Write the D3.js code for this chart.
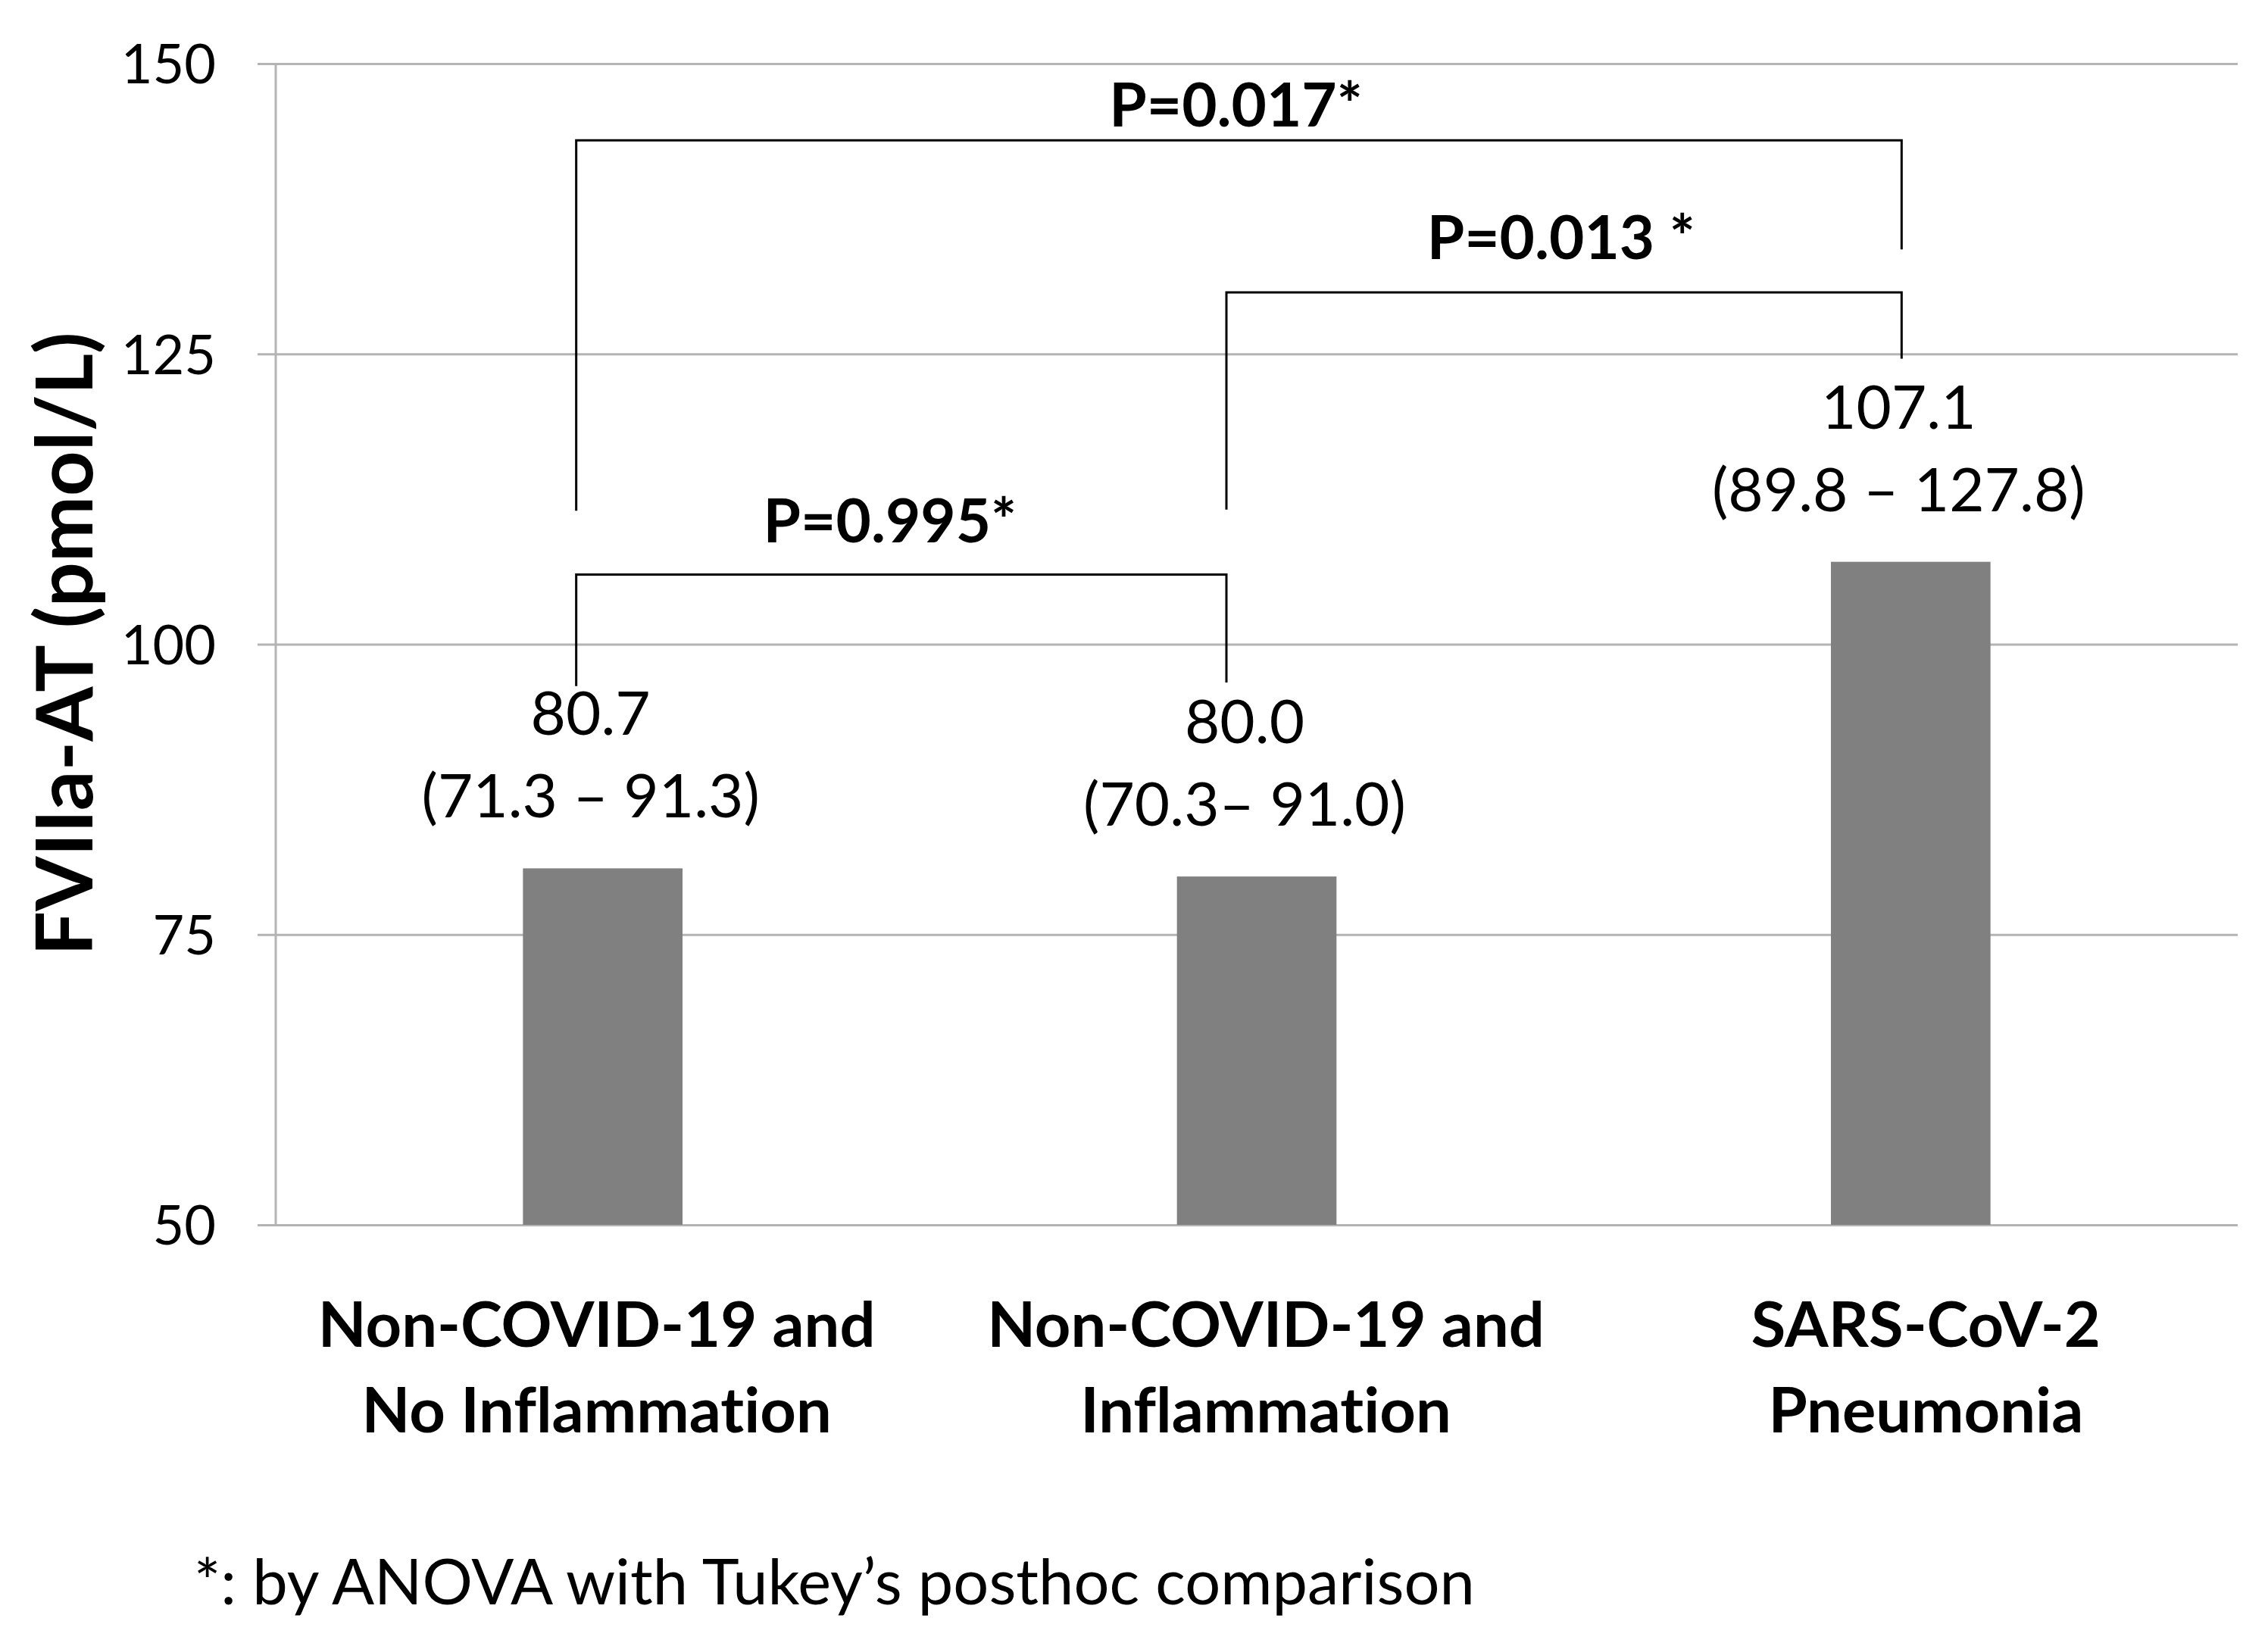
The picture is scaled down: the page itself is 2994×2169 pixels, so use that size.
<!DOCTYPE html>
<html>
<head>
<meta charset="utf-8">
<script src="https://cdn.jsdelivr.net/npm/d3@7"></script>
<style>
  html, body { margin: 0; padding: 0; background: #ffffff; }
  svg { display: block; }
  text { font-family: Lato, "Open Sans", "Noto Sans", sans-serif; fill: #000; font-variant-ligatures: none; font-feature-settings: "liga" 0, "clig" 0; }
</style>
</head>
<body>
<svg id="chart" width="2994" height="2169"></svg>
<script>
// ---------- data ----------
const categories = ["Non-COVID-19 and No Inflammation", "Non-COVID-19 and Inflammation", "SARS-CoV-2 Pneumonia"];
const categoryLines = [["Non-COVID-19 and", "No Inflammation"], ["Non-COVID-19 and", "Inflammation"], ["SARS-CoV-2", "Pneumonia"]];
const medians = [80.7, 80.0, 107.1];
const medianLabels = ["80.7", "80.0", "107.1"];
const rangeLabels = ["(71.3 \u2013 91.3)", "(70.3\u2013 91.0)", "(89.8 \u2013 127.8)"];
const yTicks = [50, 75, 100, 125, 150];
const yDomain = [50, 150];

// comparison brackets (values in data units)
const bracketFrom = [0, 1, 0];
const bracketTo = [1, 2, 2];
const bracketTop = [106.0, 130.3, 143.4];
const bracketLegFromEnd = [96.4, 111.6, 111.5];
const bracketLegToEnd = [96.7, 124.6, 134.0];
const bracketLabels = ["P=0.995*", "P=0.013 *", "P=0.017*"];
const bracketLabelAt = [108.8, 133.2, 144.6];

const yTitle = "FVIIa-AT (pmol/L)";
const footnote = "*: by ANOVA with Tukey\u2019s posthoc comparison";

// ---------- layout ----------
const W = 2994, H = 2169;
const plotLeft = 364, plotRight = 2954, plotTop = 84, plotBottom = 1617;
const svg = d3.select("#chart");

const x = d3.scaleBand().domain(categories).range([plotLeft, plotRight]).paddingInner(0).paddingOuter(0);
const y = d3.scaleLinear().domain(yDomain).range([plotBottom, plotTop]);
const barW = x.step() * 0.244;
const cx = i => x(categories[i]) + x.bandwidth() / 2;

// gridlines + tick labels via axis
const tickStart = 340;
const yAxis = d3.axisLeft(y)
  .tickValues(yTicks)
  .tickSizeInner(-(plotRight - tickStart))
  .tickSizeOuter(0)
  .tickPadding(55)
  .tickFormat(d3.format("d"));

const gAxis = svg.append("g")
  .attr("transform", `translate(${tickStart},0)`)
  .call(yAxis);
gAxis.select(".domain").remove();
gAxis.selectAll(".tick line").attr("stroke", "#b4b4b4").attr("stroke-width", 3);
gAxis.selectAll(".tick text")
  .attr("font-size", 72)
  .attr("font-family", "Lato, sans-serif")
  .attr("fill", "#000")
  .attr("dy", "0.36em");

// vertical axis line
svg.append("line")
  .attr("x1", plotLeft).attr("x2", plotLeft)
  .attr("y1", y(yDomain[1])).attr("y2", y(yDomain[0]))
  .attr("stroke", "#b4b4b4").attr("stroke-width", 3);

// bars
svg.append("g").selectAll("rect")
  .data(medians)
  .join("rect")
  .attr("x", (d, i) => cx(i) - barW / 2)
  .attr("width", barW)
  .attr("y", d => y(d))
  .attr("height", d => y(yDomain[0]) - y(d))
  .attr("fill", "#808080");

// value labels
const labelDx = -16;
const gLab = svg.append("g");
gLab.selectAll("text.med")
  .data(medians)
  .join("text")
  .attr("class", "med")
  .attr("x", (d, i) => cx(i) + labelDx)
  .attr("y", d => y(d) - 176)
  .attr("text-anchor", "middle")
  .attr("font-size", 80)
  .text((d, i) => medianLabels[i]);
gLab.selectAll("text.rng")
  .data(medians)
  .join("text")
  .attr("class", "rng")
  .attr("x", (d, i) => cx(i) + labelDx)
  .attr("y", d => y(d) - 67)
  .attr("text-anchor", "middle")
  .attr("font-size", 80)
  .text((d, i) => rangeLabels[i]);

// brackets
const legOffset = [-35, -40, -12];
const legX = i => cx(i) + legOffset[i];
const gBr = svg.append("g");
bracketLabels.forEach((lab, k) => {
  const a = bracketFrom[k], b = bracketTo[k];
  const path = d3.path();
  path.moveTo(legX(a), y(bracketLegFromEnd[k]));
  path.lineTo(legX(a), y(bracketTop[k]));
  path.lineTo(legX(b), y(bracketTop[k]));
  path.lineTo(legX(b), y(bracketLegToEnd[k]));
  gBr.append("path")
    .attr("d", path.toString())
    .attr("fill", "none")
    .attr("stroke", "#000")
    .attr("stroke-width", 3);
  gBr.append("text")
    .attr("x", (legX(a) + legX(b)) / 2 + (k === 0 ? -15 : -4))
    .attr("y", y(bracketLabelAt[k]))
    .attr("text-anchor", "middle")
    .attr("font-size", 80)
    .attr("font-weight", "bold")
    .text(lab);
});

// category labels
const catBase = [1778, 1891];
const catDx = [-8, 12, 20];
const gCat = svg.append("g");
categoryLines.forEach((lines, i) => {
  lines.forEach((ln, j) => {
    gCat.append("text")
      .attr("x", cx(i) + catDx[i])
      .attr("y", catBase[j])
      .attr("text-anchor", "middle")
      .attr("font-size", 83)
      .attr("font-weight", "bold")
      .text(ln);
  });
});

// y axis title
svg.append("text")
  .attr("transform", `translate(122,850) rotate(-90)`)
  .attr("text-anchor", "middle")
  .attr("font-size", 104)
  .attr("font-weight", "bold")
  .text(yTitle);

// footnote
svg.append("text")
  .attr("x", 256)
  .attr("y", 2118)
  .attr("font-size", 83)
  .text(footnote);
</script>
</body>
</html>
